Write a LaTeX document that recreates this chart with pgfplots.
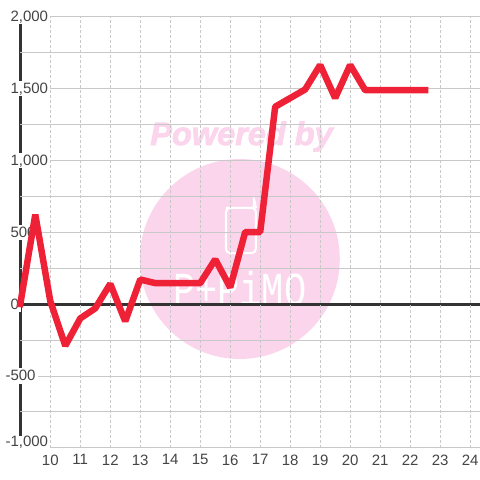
\documentclass[border=0pt]{standalone}
\usepackage{pgfplots}
\pgfplotsset{compat=1.18}
\usepackage{fontspec}
\setmainfont{Liberation Sans}
\newfontfamily\wmono{Liberation Mono}
\newfontface\pw[FakeBold=2.5]{Liberation Sans Bold Italic}
\definecolor{lab}{HTML}{444444}
\definecolor{grid}{HTML}{C8C8C8}
\definecolor{axisc}{HTML}{333333}
\definecolor{wm}{HTML}{FBD5EC}
\definecolor{redl}{HTML}{EF2137}
\pgfplotsset{layers/chart/.define layer set={axis background,axis grid,axis ticks,pre main,axis lines,axis tick labels,main,axis descriptions,axis foreground}{}}
\begin{document}
\begin{tikzpicture}[x=1pt,y=1pt]
\begin{axis}[
  at={(20.3pt,32pt)},anchor=south west,scale only axis,
  width=459.7pt,height=432pt,
  xmin=9,xmax=24.33,ymin=-1000,ymax=2000,
  axis line style={draw=none},
  xtick={10,...,24},
  ytick={-1000,-500,0,500,1000,1500,2000},
  yticklabels={{\raisebox{6.5pt}{\llap{-}1,000}},{\llap{-}500},{0},{500},{1,000},{1,500},{2,000}},
  minor ytick={-1000,-750,-500,-250,250,500,750,1000,1250,1500,1750,2000},
  major tick length=0pt,minor tick length=0pt,
  xmajorgrids=true,ymajorgrids=false,yminorgrids=true,
  major x grid style={draw=grid,line width=0.9pt,dash pattern=on 2.5pt off 2.5pt},
  minor y grid style={draw=grid,line width=1pt},
  /pgf/number format/assume math mode=true,
  tick label style={font=\fontsize{15}{15}\selectfont,text=lab},
  xticklabel style={yshift=-3pt},
  yticklabel style={anchor=west,xshift=-12pt,fill=white,inner xsep=2pt,inner ysep=2.5pt,
     text height=10pt,text depth=0pt},
  clip=false,
  set layers=chart,
]
\pgfplotsextra{\begin{pgfonlayer}{axis background}
\fill[wm] (axis cs:16.32,312.5) circle (100pt);
\node[anchor=base,text=wm,font=\fontsize{32.5}{32}\pw,inner sep=0] at (axis cs:16.377,1104) {Powered by};
\draw[white,line width=2pt,rounded corners=4pt] (axis cs:15.857,354) rectangle (axis cs:16.857,667);
\draw[white,line width=2pt,rounded corners=2pt] (axis cs:15.857,667) -- (axis cs:16.79,667) -- (axis cs:16.79,736) -- (axis cs:16.857,667);
\node[anchor=base,text=white,font=\fontsize{37}{37}\wmono,inner sep=0,yscale=1.28] at (axis cs:16.32,-7) {P+PiMO};
\end{pgfonlayer}}
\addplot[draw=axisc,line width=3pt,on layer=axis lines,forget plot] coordinates {(9,-917) (9,1945)};
\addplot[draw=axisc,line width=3pt,on layer=axis lines,forget plot] coordinates {(9,0) (24.33,0)};
\addplot[draw=redl,line width=6.5pt,line join=bevel,line cap=rect,forget plot] coordinates {
(9,0)(9.5,620)(10,20)(10.5,-290)(11,-100)(11.5,-30)(12,140)(12.5,-120)(13,170)(13.5,145)(14,145)(14.5,145)(15,145)(15.5,310)(16,115)(16.5,500)(17,500)(17.5,1370)(18,1430)(18.5,1490)(19,1660)(19.5,1430)(20,1660)(20.5,1485)(21,1485)(21.5,1485)(22,1485)(22.5,1485)};
\end{axis}
\pgfresetboundingbox
\path[use as bounding box] (0,0) rectangle (480,480);
\end{tikzpicture}
\end{document}
